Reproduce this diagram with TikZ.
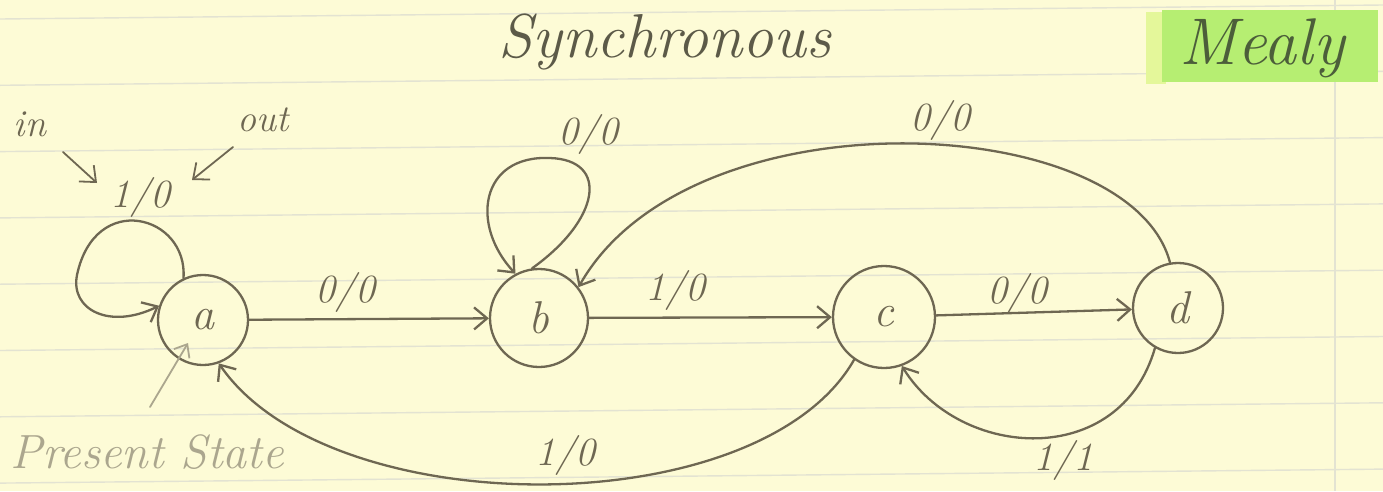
\documentclass[tikz,border=0pt]{standalone}
\usetikzlibrary{arrows.meta}
\definecolor{paper}{HTML}{FDFBD6}
\definecolor{ruling}{HTML}{E3E3D2}
\definecolor{pencil}{HTML}{6E6752}
\definecolor{pencillight}{HTML}{ABA68E}
\definecolor{hl}{HTML}{B6EE72}
\definecolor{hlpale}{HTML}{E4F79A}
\definecolor{inkgreen}{HTML}{4C5E3A}
\definecolor{titleink}{HTML}{5C5A48}
\tikzset{
  statenode/.style={circle, draw=pencil, line width=2.3pt, inner sep=0pt,
    font=\fontsize{46}{50}\selectfont\itshape, text=pencil},
  lbl/.style={font=\fontsize{40}{44}\selectfont\itshape, text=pencil, inner sep=0pt},
  note/.style={font=\fontsize{38}{42}\selectfont\itshape, text=pencil, inner sep=0pt},
  arr/.style={draw=pencil, line width=2.3pt, line cap=round,
    -{Straight Barb[length=13pt,width=22pt]}},
  lightarr/.style={draw=pencillight, line width=1.8pt, line cap=round,
    -{Straight Barb[length=11pt,width=18pt]}},
  rulingline/.style={draw=ruling, line width=1.4pt}
}
\begin{document}
\begin{tikzpicture}[x=1pt,y=-1pt]
\useasboundingbox (0,0) rectangle (1383,491);
\fill[paper] (0,0) rectangle (1383,491);
% ruled paper lines
\foreach \k in {0,...,7}{
  \draw[rulingline] (0,{19+66.3*\k}) -- (1383,{5+66.3*\k});
}
\draw[draw=ruling, line width=1.2pt] (1335,0) -- (1335,491);
% highlight
\fill[hlpale] (1146,12) rectangle (1166,84);
\fill[hl] (1162,10) rectangle (1378,82);
% titles
\node[font=\fontsize{62}{66}\selectfont\itshape, text=titleink, inner sep=0pt] (title) at (665,42) {Synchronous};
\node[font=\fontsize{66}{70}\selectfont\itshape, text=inkgreen, inner sep=0pt] (mealy) at (1262,48) {Mealy};
% states
\node[statenode, minimum size=90pt] (a) at (203,320) {a};
\node[statenode, minimum size=98pt] (b) at (539,318) {b};
\node[statenode, minimum size=102pt] (c) at (884,317) {c};
\node[statenode, minimum size=90pt] (d) at (1178,308) {d};
% annotations
\node[note] (in) at (30,124) {in};
\node[note] (out) at (263,120) {out};
\node[font=\fontsize{48}{52}\selectfont\itshape, text=pencillight, inner sep=0pt] (ps) at (147,452) {Present State};
\coordinate (intail) at (63,152);
\coordinate (intip) at (97,183);
\coordinate (outtail) at (233,147);
\coordinate (outtip) at (192,180);
\coordinate (pstail) at (150,407);
\coordinate (pstip) at (188,343);
\draw[arr, line width=1.8pt] (intail) -- (intip);
\draw[arr, line width=1.8pt] (outtail) -- (outtip);
\draw[lightarr] (pstail) -- (pstip);
% edges
\draw[arr] (a.115) .. controls (188,215) and (95,190) .. (77,275)
           .. controls (70,310) and (110,330) .. (a.162);
\node[lbl] (la) at (140,197) {1/0};
\draw[arr] (a) -- (b);
\node[lbl] (lab) at (345,292) {0/0};
\draw[arr] (b.98) .. controls (600,220) and (610,160) .. (550,158)
           .. controls (480,155) and (470,225) .. (b.118);
\node[lbl] (lb) at (588,134) {0/0};
\draw[arr] (b) -- (c);
\node[lbl] (lbc) at (675,290) {1/0};
\draw[arr] (c) -- (d);
\node[lbl] (lcd) at (1017,293) {0/0};
\draw[arr] (d.100) .. controls (1130,110) and (690,90) .. (b.38);
\node[lbl] (ldb) at (940,120) {0/0};
\draw[arr] (d.240) .. controls (1120,470) and (960,460) .. (c.290);
\node[lbl] (ldc) at (1063,460) {1/1};
\draw[arr] (c.235) .. controls (760,525) and (330,525) .. (a.290);
\node[lbl] (lca) at (565,455) {1/0};
\end{tikzpicture}
\end{document}
